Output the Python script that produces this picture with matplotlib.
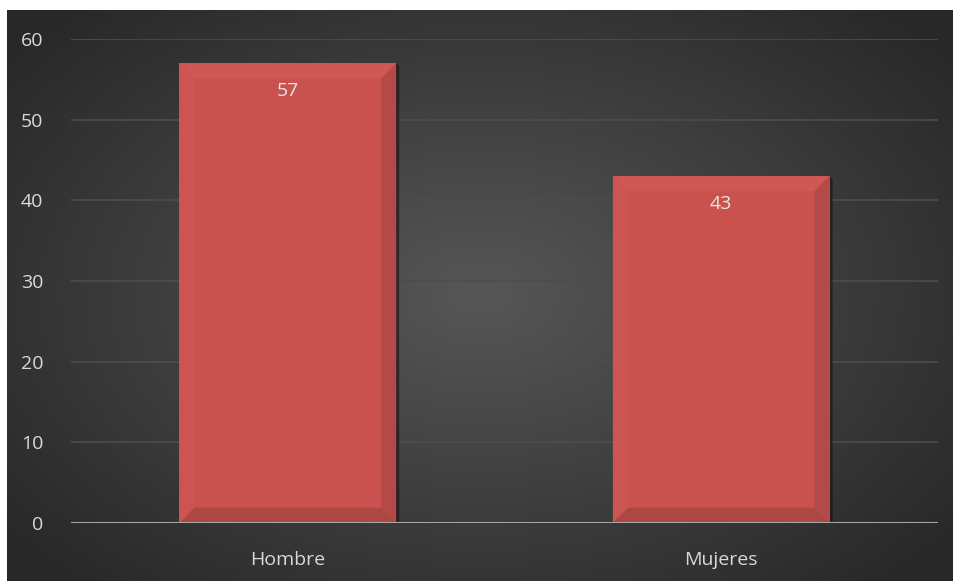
import matplotlib
matplotlib.use('Agg')
import matplotlib.pyplot as plt
from matplotlib.patches import Polygon
import numpy as np

categories = ['Hombre', 'Mujeres']
values = [57, 43]
yticks = [0, 10, 20, 30, 40, 50, 60]

plt.rcParams['font.family'] = ['Open Sans', 'DejaVu Sans']

W, H = 954, 581
fig = plt.figure(figsize=(W / 100, H / 100), dpi=100)
fig.patch.set_facecolor('white')

# dark radial background panel
bg = fig.add_axes([7 / W, 0, 1 - 7 / W, 1 - 10 / H])
bg.set_axis_off()
yy, xx = np.mgrid[0:1:300j, 0:1:500j]
r = np.sqrt(((xx - 0.5) / 0.7) ** 2 + ((yy - 0.5) / 0.75) ** 2)
shade = np.clip(0.34 - 0.2 * r, 0.16, 0.34)
bg.imshow(np.dstack([shade, shade, shade]), aspect='auto', extent=[0, 1, 0, 1])

x0, x1 = 71, 938
ytop, ybot = 39, 523
ax = fig.add_axes([x0 / W, 1 - ybot / H, (x1 - x0) / W, (ybot - ytop) / H])
ax.patch.set_alpha(0)
ax.set_ylim(0, 60)
ax.set_xlim(-0.5, 1.5)
ax.set_yticks(yticks)
ax.set_xticks(range(len(categories)))
ax.set_xticklabels(categories)
ax.tick_params(colors='#d9d9d9', labelsize=14, length=0)
ax.tick_params(axis='y', pad=20)
ax.tick_params(axis='x', pad=20)
for s in ax.spines.values():
    s.set_visible(False)
ax.grid(axis='y', color='#4d4d4d', linewidth=1.2)
ax.set_axisbelow(True)

bars = ax.bar(range(len(categories)), values, width=0.5, color='#c9524f', zorder=2)
ax.axhline(0, color='#a6a6a6', linewidth=1.5, zorder=4)

# bevel effect on each bar
bx = 0.035   # bevel width in x data units
by = 1.9     # bevel height in y data units
for val, b in zip(values, bars):
    x, y, w, h = b.get_x(), b.get_y(), b.get_width(), b.get_height()
    # shadow on the right edge
    ax.add_patch(Polygon([(x + w, y), (x + w + 0.007, y), (x + w + 0.007, y + h - 0.3), (x + w, y + h)],
                         closed=True, color='#1a1010', alpha=0.6, zorder=1.9, lw=0))
    faces = [
        ([(x, y + h), (x + w, y + h), (x + w - bx, y + h - by), (x + bx, y + h - by)], '#cf5855'),
        ([(x, y), (x, y + h), (x + bx, y + h - by), (x + bx, y + by)], '#cc5552'),
        ([(x + w, y), (x + w, y + h), (x + w - bx, y + h - by), (x + w - bx, y + by)], '#b44a47'),
        ([(x, y), (x + w, y), (x + w - bx, y + by), (x + bx, y + by)], '#ae4643'),
    ]
    for pts, c in faces:
        ax.add_patch(Polygon(pts, closed=True, color=c, zorder=3, lw=0))
    ax.text(x + w / 2, y + h - 3.5, f'{val}', ha='center', va='center',
            color='#e6e6e6', fontsize=14, zorder=5)

fig.savefig('out.png', dpi=100, facecolor=fig.get_facecolor())
